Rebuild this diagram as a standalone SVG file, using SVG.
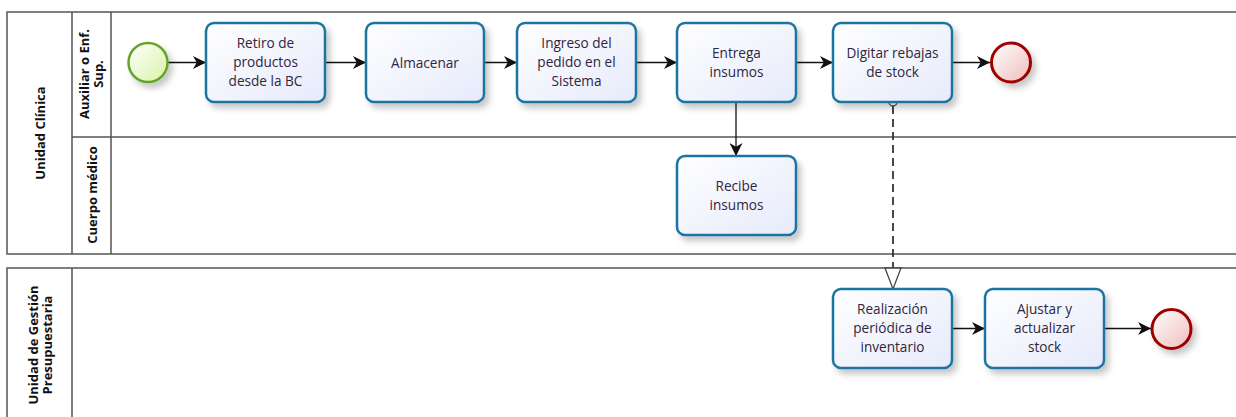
<svg xmlns="http://www.w3.org/2000/svg" width="1236" height="417" viewBox="0 0 1236 417">
<style>
.pool{fill:#fff;stroke:#555;stroke-width:1.5}
.task{fill:url(#tg);stroke:#1d75a0;stroke-width:2.5;filter:url(#sh)}
.tt{font-family:"Open Sans","Noto Sans",sans-serif;font-size:13.6px;fill:#2e2540;text-anchor:middle}
.lbl{font-family:"Open Sans","Noto Sans",sans-serif;font-size:13px;font-weight:bold;fill:#111;text-anchor:middle}
.flow{stroke:#111;stroke-width:1.3;fill:none;marker-end:url(#ar)}
</style>
<defs>
<linearGradient id="tg" x1="0" y1="0" x2="1" y2="1"><stop offset="0" stop-color="#ffffff"/><stop offset="1" stop-color="#e6eafb"/></linearGradient>
<linearGradient id="sg" x1="0" y1="0" x2="1" y2="1"><stop offset="0" stop-color="#ffffff"/><stop offset="1" stop-color="#d9f2a6"/></linearGradient>
<linearGradient id="eg" x1="0" y1="0" x2="1" y2="1"><stop offset="0" stop-color="#ffffff"/><stop offset="1" stop-color="#f0bcbc"/></linearGradient>
<filter id="sh" x="-20%" y="-20%" width="150%" height="150%"><feDropShadow dx="4" dy="5" stdDeviation="3" flood-color="#000" flood-opacity="0.22"/></filter>
<marker id="ar" markerUnits="userSpaceOnUse" markerWidth="13" markerHeight="13" viewBox="0 0 12 12" refX="12" refY="6" orient="auto"><path d="M0,0 L12,6 L0,12 L3.5,6 z" fill="#111"/></marker>
</defs>
<g id="pool-unidad-clinica">
<rect class="pool" x="7" y="12" width="1240" height="242"/>
<line x1="72" y1="12" x2="72" y2="254" stroke="#555" stroke-width="1.5"/>
<line x1="111" y1="12" x2="111" y2="254" stroke="#555" stroke-width="1.5"/>
<line x1="72" y1="137" x2="1247" y2="137" stroke="#555" stroke-width="1.5"/>
<text class="lbl" transform="translate(44.5,133) rotate(-90)">Unidad Clínica</text>
<text class="lbl" transform="translate(89,74) rotate(-90)">Auxiliar o Enf.</text>
<text class="lbl" transform="translate(103,74) rotate(-90)">Sup.</text>
<text class="lbl" transform="translate(96.5,195) rotate(-90)">Cuerpo médico</text>
</g>
<g id="pool-gestion">
<rect class="pool" x="7" y="268" width="1240" height="160"/>
<line x1="72" y1="268" x2="72" y2="428" stroke="#555" stroke-width="1.5"/>
<text class="lbl" transform="translate(37.5,345) rotate(-90)">Unidad de Gestión</text>
<text class="lbl" transform="translate(51.5,345) rotate(-90)">Presupuestaria</text>
</g>
<g id="connectors">
<line class="flow" x1="168" y1="62.5" x2="206" y2="62.5"/>
<line class="flow" x1="325" y1="62.5" x2="366" y2="62.5"/>
<line class="flow" x1="484" y1="62.5" x2="517" y2="62.5"/>
<line class="flow" x1="636" y1="62.5" x2="677" y2="62.5"/>
<line class="flow" x1="796" y1="62.5" x2="833" y2="62.5"/>
<line class="flow" x1="952" y1="62.5" x2="990" y2="62.5"/>
<line class="flow" x1="736" y1="102" x2="736" y2="156"/>
<line class="flow" x1="952" y1="328.5" x2="985" y2="328.5"/>
<line class="flow" x1="1104" y1="328.5" x2="1151" y2="328.5"/>
<g id="message-flow">
<line x1="893" y1="106" x2="893" y2="268" stroke="#333" stroke-width="1.8" stroke-dasharray="8,5"/>
<circle cx="893" cy="102" r="4" fill="#fff" stroke="#444" stroke-width="1.3"/>
<path d="M885,268 L893,289 L901,268 z" fill="#fff" stroke="#444" stroke-width="1.3"/>
</g>
</g>
<g id="start">
<circle cx="148" cy="62.5" r="19.5" fill="url(#sg)" stroke="#62a52a" stroke-width="2.5" filter="url(#sh)"/>
</g>
<g id="retiro">
<rect class="task" x="206" y="23" width="119" height="79" rx="8"/>
<text class="tt"><tspan x="265.5" y="48">Retiro de</tspan><tspan x="265.5" y="67">productos</tspan><tspan x="265.5" y="86">desde la BC</tspan></text>
</g>
<g id="almacenar">
<rect class="task" x="366" y="23" width="118" height="79" rx="8"/>
<text class="tt" x="425" y="67.5">Almacenar</text>
</g>
<g id="ingreso">
<rect class="task" x="517" y="23" width="119" height="79" rx="8"/>
<text class="tt"><tspan x="576.5" y="48">Ingreso del</tspan><tspan x="576.5" y="67">pedido en el</tspan><tspan x="576.5" y="86">Sistema</tspan></text>
</g>
<g id="entrega">
<rect class="task" x="677" y="23" width="119" height="79" rx="8"/>
<text class="tt"><tspan x="736.5" y="58">Entrega</tspan><tspan x="736.5" y="76.5">insumos</tspan></text>
</g>
<g id="digitar">
<rect class="task" x="833" y="23" width="119" height="79" rx="8"/>
<text class="tt"><tspan x="892.5" y="58">Digitar rebajas</tspan><tspan x="892.5" y="76.5">de stock</tspan></text>
</g>
<g id="end1">
<circle cx="1011" cy="62.5" r="19.5" fill="url(#eg)" stroke="#a00000" stroke-width="3" filter="url(#sh)"/>
</g>
<g id="recibe">
<rect class="task" x="677" y="156" width="119" height="79" rx="8"/>
<text class="tt"><tspan x="736.5" y="191">Recibe</tspan><tspan x="736.5" y="209.5">insumos</tspan></text>
</g>
<g id="realizacion">
<rect class="task" x="833" y="289" width="119" height="79" rx="8"/>
<text class="tt"><tspan x="892.5" y="314">Realización</tspan><tspan x="892.5" y="333">periódica de</tspan><tspan x="892.5" y="352">inventario</tspan></text>
</g>
<g id="ajustar">
<rect class="task" x="985" y="289" width="119" height="79" rx="8"/>
<text class="tt"><tspan x="1044.5" y="314">Ajustar y</tspan><tspan x="1044.5" y="333">actualizar</tspan><tspan x="1044.5" y="352">stock</tspan></text>
</g>
<g id="end2">
<circle cx="1171.5" cy="329" r="19.5" fill="url(#eg)" stroke="#a00000" stroke-width="3" filter="url(#sh)"/>
</g>
</svg>
